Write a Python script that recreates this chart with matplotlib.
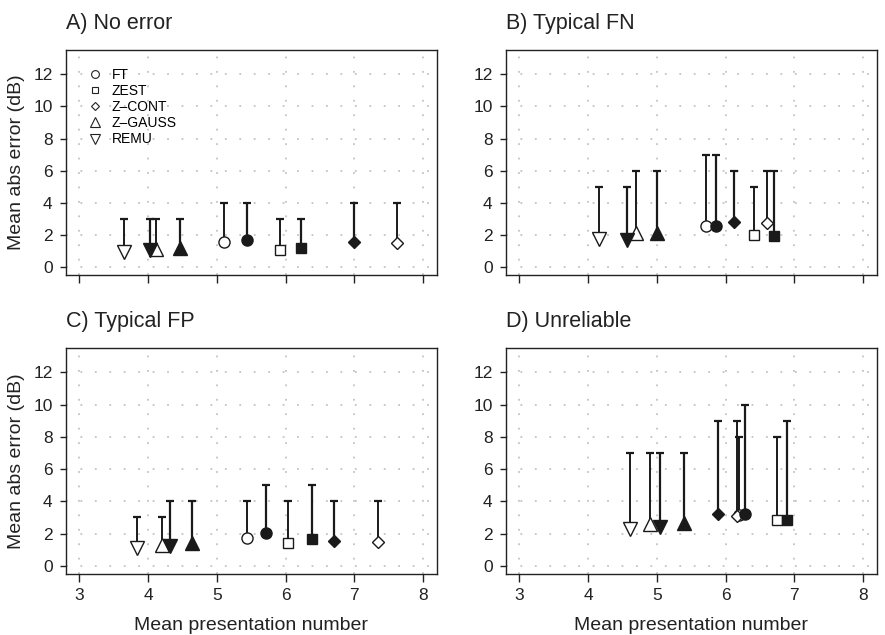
import matplotlib
matplotlib.use("Agg")
import matplotlib.pyplot as plt
from matplotlib.lines import Line2D

plt.rcParams['font.family'] = ['Liberation Sans', 'DejaVu Sans']

methods = ["FT", "ZEST", "Z-CONT", "Z-GAUSS", "REMU"]
legend_labels = ["FT", "ZEST", "Z\u2013CONT", "Z\u2013GAUSS", "REMU"]
panel_titles = ["A) No error", "B) Typical FN", "C) Typical FP", "D) Unreliable"]

# order of each list follows `methods`: FT, ZEST, Z-CONT, Z-GAUSS, REMU
# open-symbol condition
a_x_open = [5.10, 5.92, 7.62, 4.12, 3.65]
a_y_open = [1.57, 1.08, 1.49, 1.15, 0.95]
a_up_open = [4, 3, 4, 3, 3]
# filled-symbol condition
a_x_fill = [5.44, 6.23, 7.00, 4.47, 4.02]
a_y_fill = [1.68, 1.18, 1.53, 1.20, 1.05]
a_up_fill = [4, 3, 4, 3, 3]

b_x_open = [5.71, 6.42, 6.60, 4.69, 4.16]
b_y_open = [2.53, 1.97, 2.74, 2.11, 1.72]
b_up_open = [7, 5, 6, 6, 5]
b_x_fill = [5.86, 6.70, 6.13, 5.00, 4.57]
b_y_fill = [2.57, 1.95, 2.78, 2.11, 1.66]
b_up_fill = [7, 6, 6, 6, 5]

c_x_open = [5.44, 6.03, 7.35, 4.20, 3.84]
c_y_open = [1.76, 1.39, 1.49, 1.28, 1.12]
c_up_open = [4, 4, 4, 3, 3]
c_x_fill = [5.72, 6.38, 6.71, 4.64, 4.32]
c_y_fill = [2.05, 1.64, 1.55, 1.39, 1.26]
c_up_fill = [5, 5, 4, 4, 4]

d_x_open = [6.19, 6.75, 6.17, 4.90, 4.61]
d_y_open = [3.15, 2.84, 3.11, 2.57, 2.30]
d_up_open = [8, 8, 9, 7, 7]
d_x_fill = [6.29, 6.90, 5.89, 5.40, 5.04]
d_y_fill = [3.23, 2.84, 3.19, 2.63, 2.40]
d_up_fill = [10, 9, 9, 7, 7]

x_ticks = [3, 4, 5, 6, 7, 8]
y_ticks = [0, 2, 4, 6, 8, 10, 12]

panels = [
    (a_x_open, a_y_open, a_up_open, a_x_fill, a_y_fill, a_up_fill),
    (b_x_open, b_y_open, b_up_open, b_x_fill, b_y_fill, b_up_fill),
    (c_x_open, c_y_open, c_up_open, c_x_fill, c_y_fill, c_up_fill),
    (d_x_open, d_y_open, d_up_open, d_x_fill, d_y_fill, d_up_fill),
]

markers = {"FT": "o", "ZEST": "s", "Z-CONT": "D", "Z-GAUSS": "^", "REMU": "v"}
msizes = {"FT": 8.0, "ZEST": 7.0, "Z-CONT": 6.5, "Z-GAUSS": 9.5, "REMU": 9.5}

fig = plt.figure(figsize=(8.85, 6.35), dpi=100)
W, H = 885.0, 635.0
boxes = [
    (65.7, 50.0, 436.7, 275.3),
    (505.7, 50.0, 876.7, 275.3),
    (65.7, 347.7, 436.7, 574.3),
    (505.7, 347.7, 876.7, 574.3),
]

for i, (box, data, title) in enumerate(zip(boxes, panels, panel_titles)):
    l, t, r, b = box
    ax = fig.add_axes([l / W, 1 - b / H, (r - l) / W, (b - t) / H])
    xo, yo, uo, xf, yf, uf = data
    for k, m in enumerate(methods):
        # open symbols
        ax.vlines(xo[k], yo[k], uo[k], color='#1a1a1a', lw=1.4, zorder=3)
        ax.plot([xo[k]], [uo[k]], marker='_', ms=5.5, mew=1.6, color='#1a1a1a', zorder=3)
        ax.plot([xo[k]], [yo[k]], marker=markers[m], ms=msizes[m], mfc='white',
                mec='#1a1a1a', mew=1.0, ls='none', zorder=4)
    for k, m in enumerate(methods):
        # filled symbols
        ax.vlines(xf[k], yf[k], uf[k], color='#1a1a1a', lw=1.6, zorder=5)
        ax.plot([xf[k]], [uf[k]], marker='_', ms=5.5, mew=1.6, color='#1a1a1a', zorder=5)
        ax.plot([xf[k]], [yf[k]], marker=markers[m], ms=msizes[m], mfc='#1a1a1a',
                mec='#1a1a1a', mew=1.0, ls='none', zorder=6)

    ax.set_xlim(2.8, 8.2)
    ax.set_ylim(-0.52, 13.52)
    ax.set_xticks(x_ticks)
    ax.set_yticks(y_ticks)
    ax.grid(True, color='#c4c4c4', linestyle=(0, (1, 7)), linewidth=1.3, zorder=0)
    ax.set_axisbelow(True)
    for s in ax.spines.values():
        s.set_linewidth(1.0)
        s.set_color('#222222')
    ax.tick_params(axis='x', direction='out', length=6, width=1.0, labelsize=12.5, pad=4, colors='#222222')
    ax.tick_params(axis='y', direction='out', length=4.5, width=1.0, labelsize=12.5, pad=5, colors='#222222')
    if i < 2:
        ax.set_xticklabels([])
    else:
        ax.set_xlabel("Mean presentation number", fontsize=14, labelpad=10, color='#222222')
    if i % 2 == 0:
        ax.set_ylabel("Mean abs error (dB)", fontsize=14, labelpad=6, color='#222222')
    ax.set_title(title, loc='left', fontsize=15.5, pad=15, color='#222222')

    if i == 0:
        handles = [Line2D([], [], marker=markers[m], ms=msizes[m] * 0.7, mfc='white',
                          mec='#222222', mew=0.8, ls='none') for m in methods]
        ax.legend(handles, legend_labels, loc='upper left', bbox_to_anchor=(0.03, 0.965),
                  frameon=False, fontsize=10, handlelength=1.2, handletextpad=0.6,
                  labelspacing=0.16, borderaxespad=0.3)

fig.savefig("out.png", dpi=100)
